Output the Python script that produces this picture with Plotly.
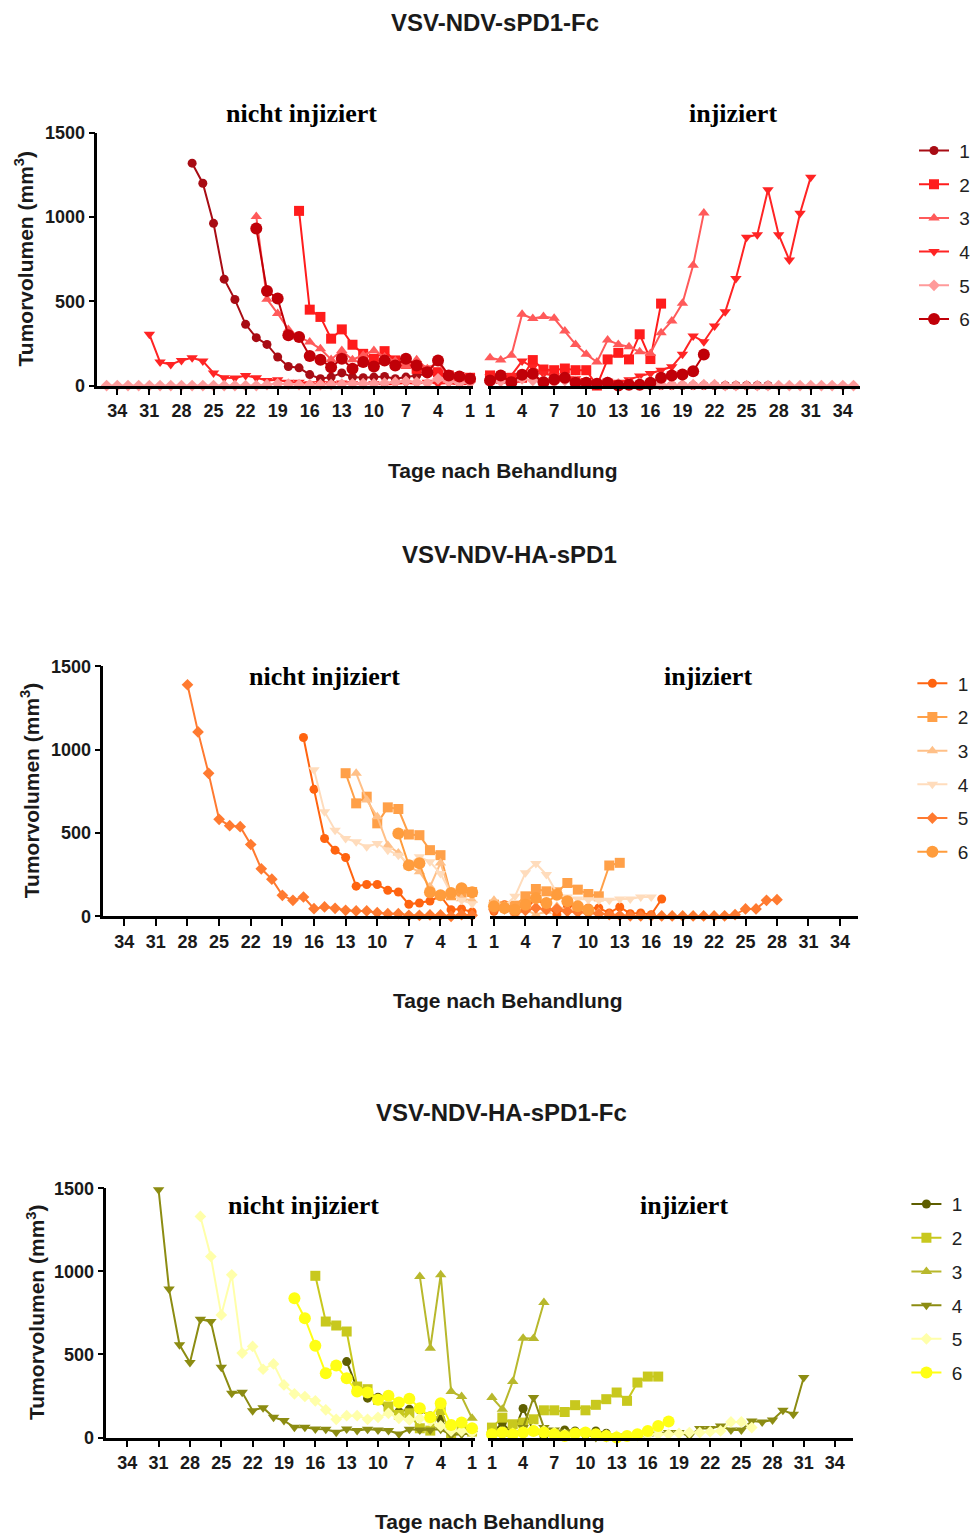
import plotly.graph_objects as go

W, H = 976, 1535

# ---------------- DATA (values for day 1, 2, 3, ... ascending) ----------------
series_names = ["1", "2", "3", "4", "5", "6"]
tick_days = [34, 31, 28, 25, 22, 19, 16, 13, 10, 7, 4, 1]
y_ticks = [0, 500, 1000, 1500]

# Panel 1: VSV-NDV-sPD1-Fc
p1_ni_s1 = [40, 54, 40, 65, 70, 60, 50, 40, 54, 50, 46, 50, 75, 50, 40, 65, 105, 113, 169, 244, 284, 363, 510, 631, 962, 1200, 1319]
p1_ni_s2 = [46, 50, 60, 79, 89, 99, 129, 149, 204, 159, 188, 242, 333, 278, 407, 450, 1036]
p1_ni_s3 = [34, 40, 50, 139, 99, 153, 119, 145, 169, 208, 179, 153, 208, 155, 218, 258, 288, 333, 427, 512, 1002]
p1_ni_s4 = [10, 5, 15, 10, 20, 10, 15, 10, 5, 10, 5, 10, 15, 10, 12, 10, 20, 20, 34, 30, 46, 60, 44, 46, 75, 145, 165, 149, 125, 139, 304]
p1_ni_s5 = [20, 15, 25, 40, 15, 20, 25, 20, 15, 10, 12, 10, 8, 6, 5, 5, 5, 8, 10, 5, 0, 0, 0, 0, 0, 0, 0, 0, 0, 0, 0, 0, 0, 0, 0]
p1_ni_s6 = [40, 54, 60, 149, 79, 119, 159, 119, 149, 113, 139, 99, 159, 109, 153, 175, 288, 298, 516, 561, 932]

p1_in_s1 = [26, 52, 16, 56, 56, 16, 36, 46, 16, 16, 10, 10, 0, 0, 0, 0, 0, 0, 0, 0, 0, 0, 0, 0, 0, 0, 0]
p1_in_s2 = [60, 40, 46, 46, 151, 95, 91, 101, 91, 91, 0, 155, 194, 155, 304, 157, 486]
p1_in_s3 = [165, 151, 179, 423, 397, 409, 399, 323, 244, 185, 139, 270, 244, 230, 200, 190, 313, 383, 488, 714, 1024]
p1_in_s4 = [50, 40, 60, 145, 110, 70, 60, 50, 40, 30, 20, 25, 20, 35, 56, 71, 91, 111, 185, 294, 260, 353, 438, 635, 879, 895, 1161, 895, 744, 1022, 1236]
p1_in_s5 = [20, 25, 15, 40, 30, 25, 20, 30, 25, 15, 10, 20, 10, 10, 15, 20, 5, 5, 5, 5, 5, 5, 0, 0, 0, 0, 0, 0, 0, 0, 0, 0, 0, 0, 0]
p1_in_s6 = [30, 60, 20, 64, 70, 20, 36, 46, 16, 16, 10, 16, 0, 5, 5, 16, 46, 60, 66, 85, 184]

# Panel 2: VSV-NDV-HA-sPD1
p2_ni_s1 = [26, 44, 40, 122, 92, 80, 72, 146, 156, 191, 191, 181, 353, 397, 467, 762, 1073]
p2_ni_s2 = [146, 142, 126, 367, 397, 487, 491, 644, 654, 558, 718, 678, 859]
p2_ni_s3 = [96, 106, 126, 320, 177, 267, 297, 380, 427, 598, 698, 859]
p2_ni_s4 = [76, 96, 136, 257, 327, 357, 317, 367, 397, 437, 417, 447, 467, 517, 628, 879]
p2_ni_s5 = [6, 10, 0, 8, 8, 6, 6, 16, 16, 22, 32, 32, 36, 48, 56, 46, 116, 96, 126, 223, 285, 431, 538, 544, 582, 858, 1107, 1390]
p2_ni_s6 = [144, 168, 140, 126, 144, 318, 306, 497]

p2_in_s1 = [30, 70, 16, 44, 104, 64, 10, 64, 60, 50, 50, 20, 56, 16, 20, 10, 104]
p2_in_s2 = [70, 60, 64, 120, 164, 150, 144, 200, 160, 134, 120, 305, 321]
p2_in_s3 = [96, 60, 10, 40, 10, 30, 60, 40, 45, 35, 25]
p2_in_s4 = [70, 60, 120, 261, 317, 251, 140, 116, 104, 100, 96, 96, 104, 104, 116, 116]
p2_in_s5 = [40, 45, 20, 35, 50, 40, 45, 30, 25, 20, 15, 10, 5, 3, 2, 2, 2, 2, 2, 2, 2, 2, 3, 10, 44, 44, 96, 100]
p2_in_s6 = [60, 50, 40, 70, 110, 80, 130, 90, 60, 40]

# Panel 3: VSV-NDV-HA-sPD1-Fc
p3_ni_s1 = [42, 50, 10, 112, 130, 166, 171, 156, 156, 243, 237, 297, 457]
p3_ni_s2 = [36, 46, 10, 166, 42, 56, 146, 136, 187, 227, 291, 307, 638, 674, 698, 973]
p3_ni_s3 = [116, 247, 277, 979, 538, 969]
p3_ni_s4 = [25, 20, 16, 50, 46, 46, 50, 22, 42, 46, 50, 42, 52, 32, 50, 52, 62, 62, 102, 122, 180, 162, 273, 267, 423, 698, 712, 451, 558, 893, 1490]
p3_ni_s5 = [30, 40, 40, 70, 100, 116, 106, 116, 146, 122, 110, 132, 132, 110, 167, 221, 247, 263, 317, 443, 411, 548, 508, 979, 738, 1089, 1330]
p3_ni_s6 = [56, 90, 76, 207, 122, 177, 233, 211, 251, 227, 271, 277, 357, 433, 387, 552, 718, 838]

p3_in_s1 = [20, 90, 20, 175, 40, 10, 26, 46, 40, 20, 40, 26]
p3_in_s2 = [60, 120, 80, 90, 110, 164, 164, 154, 195, 164, 197, 231, 271, 221, 331, 367, 367]
p3_in_s3 = [241, 171, 337, 598, 596, 812]
p3_in_s4 = [20, 10, 14, 60, 241, 60, 46, 34, 34, 20, 0, 0, 10, 6, 10, 6, 20, 30, 30, 10, 54, 54, 70, 46, 46, 100, 94, 106, 164, 140, 361]
p3_in_s5 = [20, 30, 25, 35, 50, 40, 30, 20, 20, 25, 20, 15, 10, 10, 10, 15, 20, 20, 25, 30, 30, 35, 40, 94, 94, 60]
p3_in_s6 = [20, 30, 20, 30, 40, 30, 20, 10, 25, 30, 20, 10, 0, 10, 20, 40, 70, 96]

panel_titles = ["VSV-NDV-sPD1-Fc", "VSV-NDV-HA-sPD1", "VSV-NDV-HA-sPD1-Fc"]
p1_colors = ["#a80c14", "#ff1c1c", "#ff5a5a", "#ff2424", "#ff9a9a", "#c00008"]
p2_colors = ["#ff6410", "#ffa048", "#ffc088", "#ffdcbc", "#ff7a30", "#ff9c3c"]
p3_colors = ["#5e5e00", "#c8c81e", "#b8b82c", "#8c8c12", "#ffffaa", "#ffff14"]

# ---------------- STYLE ----------------
symbols = ["circle", "square", "triangle-up", "triangle-down", "diamond", "circle"]
msizes = [9, 10, 10, 10, 9, 12]

# the photographed page is slightly compressed vertically; compensate
Y_OFF, Y_SCALE = 9.3, 0.9874

def px(x):
    return x / W

def py(y):
    t = (y - Y_OFF) / Y_SCALE
    return 1 - t / H

panels = [
    dict(ni=[p1_ni_s1, p1_ni_s2, p1_ni_s3, p1_ni_s4, p1_ni_s5, p1_ni_s6],
         inj=[p1_in_s1, p1_in_s2, p1_in_s3, p1_in_s4, p1_in_s5, p1_in_s6],
         colors=p1_colors, left=(95, 473), right=(488, 862), ytop=132, ybot=385,
         lrange=[35.86, 0.72], rrange=[0.81, 35.58],
         title=(495, 22), ylab=(21, 258), ni_lab=(300, 113), in_lab=(735, 113),
         xlab=(503, 470), leg=(917, 131)),
    dict(ni=[p2_ni_s1, p2_ni_s2, p2_ni_s3, p2_ni_s4, p2_ni_s5, p2_ni_s6],
         inj=[p2_in_s1, p2_in_s2, p2_in_s3, p2_in_s4, p2_in_s5, p2_in_s6],
         colors=p2_colors, left=(101, 475), right=(490, 860), ytop=666, ybot=916,
         lrange=[35.98, 0.72], rrange=[0.62, 35.7],
         title=(510, 554), ylab=(28, 790), ni_lab=(323, 676), in_lab=(709, 676),
         xlab=(508, 1000), leg=(915, 664)),
    dict(ni=[p3_ni_s1, p3_ni_s2, p3_ni_s3, p3_ni_s4, p3_ni_s5, p3_ni_s6],
         inj=[p3_in_s1, p3_in_s2, p3_in_s3, p3_in_s4, p3_in_s5, p3_in_s6],
         colors=p3_colors, left=(104, 475), right=(488, 855), ytop=1188, ybot=1437.5,
         lrange=[36.0, 0.71], rrange=[0.62, 35.72],
         title=(502, 1112), ylab=(33, 1312), ni_lab=(302, 1205), in_lab=(685, 1205),
         xlab=(490, 1521), leg=(909, 1185)),
]

fig = go.Figure()
layout = dict(width=W, height=H, margin=dict(l=0, r=0, t=0, b=0), autosize=False,
              paper_bgcolor="white", plot_bgcolor="white", annotations=[])

SANS = "Liberation Sans, Arial, sans-serif"
SERIF = "Liberation Serif, Times New Roman, serif"
tickfont = dict(family=SANS, size=18, color="#1a1a1a", weight="bold")

for pi, P in enumerate(panels):
    ax_l = 2 * pi + 1
    ax_r = 2 * pi + 2
    legname = "legend" if pi == 0 else f"legend{pi + 1}"
    for side, ax, data in (("ni", ax_l, P["ni"]), ("in", ax_r, P["inj"])):
        xa = "x" if ax == 1 else f"x{ax}"
        ya = "y" if ax == 1 else f"y{ax}"
        for si, vals in enumerate(data):
            days = list(range(1, len(vals) + 1))
            fig.add_trace(go.Scatter(
                x=days, y=vals, xaxis=xa, yaxis=ya, mode="lines+markers",
                name="\u00a0" + series_names[si], legend=legname, legendgroup=f"p{pi}s{si}",
                showlegend=(side == "ni"),
                line=dict(color=P["colors"][si], width=2),
                marker=dict(symbol=symbols[si], size=msizes[si], color=P["colors"][si],
                            line=dict(width=0)),
                cliponaxis=False,
            ))
    ydom = [py(P["ybot"]), py(P["ytop"])]
    for ax, dom, rng, showy in ((ax_l, P["left"], P["lrange"], True), (ax_r, P["right"], P["rrange"], False)):
        xk = "xaxis" if ax == 1 else f"xaxis{ax}"
        yk = "yaxis" if ax == 1 else f"yaxis{ax}"
        layout[xk] = dict(domain=[px(dom[0]), px(dom[1])], range=rng, anchor=("y" if ax == 1 else f"y{ax}"),
                          showline=True, linecolor="black", linewidth=2.5, ticks="outside",
                          ticklen=7, tickwidth=2, tickcolor="black", tickvals=tick_days,
                          ticktext=[str(d) for d in tick_days], tickfont=tickfont,
                          showgrid=False, zeroline=False, fixedrange=True)
        layout[yk] = dict(domain=ydom, range=[0, 1500], anchor=("x" if ax == 1 else f"x{ax}"),
                          showline=showy, linecolor="black", linewidth=2.5,
                          ticks="outside" if showy else "", ticklen=6, tickwidth=2, tickcolor="black",
                          tickvals=y_ticks, showticklabels=showy, tickfont=tickfont,
                          showgrid=False, zeroline=False, fixedrange=True)
    layout[legname] = dict(x=px(P["leg"][0]), y=py(P["leg"][1]), xanchor="left", yanchor="top",
                           font=dict(family=SANS, size=19, color="#222"),
                           tracegroupgap=6, itemwidth=30, bgcolor="rgba(0,0,0,0)")
    ann = layout["annotations"]
    ann.append(dict(text=f"<b>{panel_titles[pi]}</b>", x=px(P["title"][0]), y=py(P["title"][1]),
                    xref="paper", yref="paper", showarrow=False, xanchor="center", yanchor="middle",
                    font=dict(family=SANS, size=24, color="#1a1a1a")))
    ann.append(dict(text="<b>Tumorvolumen (mm<sup>3</sup>)</b>", x=px(P["ylab"][0]), y=py(P["ylab"][1]),
                    xref="paper", yref="paper", showarrow=False, xanchor="center", yanchor="middle",
                    textangle=-90, font=dict(family=SANS, size=21, color="#1a1a1a")))
    ann.append(dict(text="<b>nicht injiziert</b>", x=px(P["ni_lab"][0]), y=py(P["ni_lab"][1]),
                    xref="paper", yref="paper", showarrow=False, xanchor="center", yanchor="middle",
                    font=dict(family=SERIF, size=26, color="black")))
    ann.append(dict(text="<b>injiziert</b>", x=px(P["in_lab"][0]), y=py(P["in_lab"][1]),
                    xref="paper", yref="paper", showarrow=False, xanchor="center", yanchor="middle",
                    font=dict(family=SERIF, size=26, color="black")))
    ann.append(dict(text="<b>Tage nach Behandlung</b>", x=px(P["xlab"][0]), y=py(P["xlab"][1]),
                    xref="paper", yref="paper", showarrow=False, xanchor="center", yanchor="middle",
                    font=dict(family=SANS, size=21, color="#1a1a1a")))

fig.update_layout(**layout)
fig.write_html("out.html")
